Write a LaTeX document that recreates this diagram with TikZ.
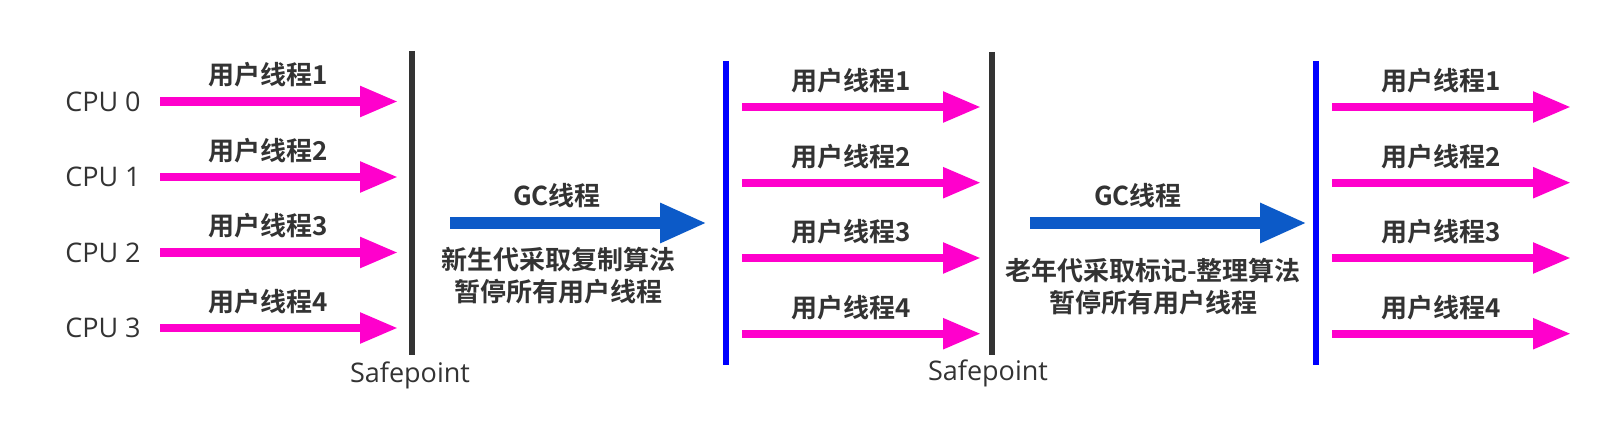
\documentclass[tikz,border=0pt]{standalone}
\usepackage{fontspec}
\usetikzlibrary{arrows.meta}
\newfontfamily\cjkbold[BoldFont={Noto Sans CJK SC Bold}]{Noto Sans CJK SC Bold}
\newfontfamily\latinfont{Open Sans}
\definecolor{txt}{HTML}{333333}
\definecolor{pinkc}{HTML}{FF00CC}
\definecolor{gcblue}{HTML}{0C5AC8}
\definecolor{barblue}{HTML}{0000FF}
\definecolor{bargray}{HTML}{333333}
\tikzset{
  userarrow/.style={draw=pinkc, line width=8.3pt, -{Triangle[length=38pt,width=29pt]}, pinkc},
  gcarrow/.style={draw=gcblue, line width=11.7pt, -{Triangle[length=47pt,width=37pt]}, gcblue},
  safebar/.style={draw=bargray, line width=6pt},
  resumebar/.style={draw=barblue, line width=6pt},
  cjklabel/.style={inner sep=0pt, text=txt, font=\cjkbold\fontsize{26}{32}\selectfont, align=center},
  latlabel/.style={inner sep=0pt, text=txt, font=\latinfont\fontsize{27}{30}\selectfont},
}
\begin{document}
\begin{tikzpicture}[x=1pt,y=-1pt]
\useasboundingbox (0,0) rectangle (1606,441);
% group 1
\foreach \i/\y in {0/101.5,1/177,2/252.5,3/328}{
  \pgfmathtruncatemacro{\n}{\i+1}
  \node[latlabel] (cpu\i) at (103,\y) {CPU \i};
  \coordinate (a\i s) at (160,\y);
  \coordinate (a\i e) at (398,\y);
  \draw[userarrow] (a\i s) -- (a\i e);
  \node[cjklabel] (la\i) at (268,\y-26.5) {用户线程\n};
}
% safepoint bar 1
\coordinate (s1t) at (412,51);
\coordinate (s1b) at (412,355);
\draw[safebar] (s1t) -- (s1b);
\node[latlabel] (sp1) at (410,375) {Safepoint};
% GC arrow 1
\coordinate (g1s) at (450,223);
\coordinate (g1e) at (707,223);
\draw[gcarrow] (g1s) -- (g1e);
\node[cjklabel] (gc1) at (557,196) {GC线程};
\node[cjklabel] (gt1) at (558,276) {新生代采取复制算法\\暂停所有用户线程};
% resume bar 2
\coordinate (b2t) at (726,61);
\coordinate (b2b) at (726,365);
\draw[resumebar] (b2t) -- (b2b);
% group 2
\foreach \i/\y in {0/107,1/182.7,2/258,3/333.7}{
  \pgfmathtruncatemacro{\n}{\i+1}
  \coordinate (b\i s) at (742,\y);
  \coordinate (b\i e) at (981,\y);
  \draw[userarrow] (b\i s) -- (b\i e);
  \node[cjklabel] (lb\i) at (851,\y-26.5) {用户线程\n};
}
% safepoint bar 2
\coordinate (s2t) at (992,52);
\coordinate (s2b) at (992,355);
\draw[safebar] (s2t) -- (s2b);
\node[latlabel] (sp2) at (988,373) {Safepoint};
% GC arrow 2
\coordinate (g2s) at (1030,223);
\coordinate (g2e) at (1307,223);
\draw[gcarrow] (g2s) -- (g2e);
\node[cjklabel] (gc2) at (1138,196) {GC线程};
\node[cjklabel] (gt2) at (1153,286.5) {老年代采取标记-整理算法\\暂停所有用户线程};
% resume bar 3
\coordinate (b3t) at (1316,61);
\coordinate (b3b) at (1316,365);
\draw[resumebar] (b3t) -- (b3b);
% group 3
\foreach \i/\y in {0/107,1/182.7,2/258,3/333.7}{
  \pgfmathtruncatemacro{\n}{\i+1}
  \coordinate (c\i s) at (1332,\y);
  \coordinate (c\i e) at (1571,\y);
  \draw[userarrow] (c\i s) -- (c\i e);
  \node[cjklabel] (lc\i) at (1441,\y-26.5) {用户线程\n};
}
\end{tikzpicture}
\end{document}
